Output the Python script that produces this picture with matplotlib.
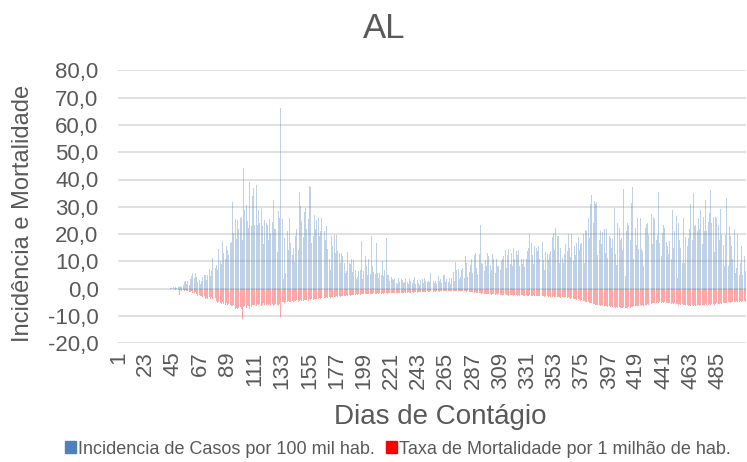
import matplotlib
matplotlib.use("Agg")
import matplotlib.pyplot as plt
from matplotlib.patches import Patch
from matplotlib.ticker import FuncFormatter, FixedLocator

plt.rcParams['font.family'] = ['Liberation Sans', 'DejaVu Sans']

# Incidência diária de casos por 100 mil hab. (AL)
incidencia = [
    0, 0, 0, 0, 0, 0, 0, 0, 0, 0,
    0, 0, 0, 0, 0, 0, 0, 0, 0, 0,
    0, 0, 0, 0, 0, 0, 0, 0, 0, 0,
    0, 0, 0, 0, 0, 0, 0, 0, 0, 0,
    0, 0, 0.2, 0.3, 0.5, 0.2, 0.6, 0.4, 0.7, 0.5,
    0.9, 0.6, 1.2, 2.6, 2.8, 1.9, 2.9, 1.3, 3.6, 4.6,
    5.8, 3.9, 5.6, 4.4, 2.3, 3.1, 1.8, 2.7, 4.4, 5.0,
    4.9, 3.3, 5.2, 7.1, 4.6, 6.4, 11.3, 5.4, 7.6, 8.7,
    6.9, 14.4, 10.2, 8.9, 17.4, 13.1, 11.0, 15.6, 14.0, 12.2,
    16.8, 17.1, 31.8, 20.5, 25.4, 18.2, 25.0, 21.7, 26.0, 26.3,
    17.9, 44.3, 29.0, 30.6, 24.8, 22.1, 39.0, 23.0, 33.9, 37.0,
    23.5, 37.9, 23.5, 29.0, 24.0, 29.4, 23.0, 16.5, 25.0, 24.0,
    23.5, 18.0, 25.6, 20.4, 24.5, 32.4, 22.0, 22.0, 13.5, 28.6,
    26.0, 66.2, 25.4, 3.4, 18.7, 5.8, 21.0, 14.2, 26.0, 16.8,
    12.5, 15.0, 9.8, 19.3, 21.7, 14.0, 35.4, 30.2, 24.8, 19.0,
    28.2, 29.6, 22.0, 25.4, 37.8, 37.3, 16.8, 19.3, 27.0, 22.0,
    25.0, 26.0, 19.3, 21.0, 26.0, 26.3, 21.0, 18.0, 23.0, 14.4,
    10.7, 6.8, 19.3, 15.6, 19.5, 13.0, 19.6, 13.7, 13.0, 9.5,
    13.0, 12.0, 9.5, 5.9, 6.5, 13.4, 9.3, 9.0, 11.0, 6.0,
    10.5, 7.0, 3.4, 4.2, 6.5, 7.0, 17.4, 3.4, 6.5, 11.9,
    8.3, 5.2, 11.0, 5.5, 19.3, 8.3, 6.0, 5.5, 16.6, 5.9,
    4.0, 5.9, 5.2, 10.1, 4.6, 7.0, 18.7, 5.2, 4.9, 2.8,
    4.4, 3.4, 3.2, 4.0, 2.2, 1.8, 4.1, 2.3, 3.6, 3.2,
    2.0, 2.5, 4.0, 2.6, 1.8, 3.6, 2.9, 2.2, 3.3, 4.4,
    1.6, 3.2, 2.2, 1.4, 3.1, 3.6, 2.0, 3.8, 2.7, 2.4,
    3.0, 2.4, 5.9, 3.1, 2.8, 2.2, 2.9, 1.9, 4.6, 2.8,
    3.5, 2.2, 5.2, 5.2, 2.6, 3.4, 2.4, 4.0, 1.8, 4.0,
    6.1, 3.0, 9.9, 6.8, 7.3, 3.4, 4.2, 7.0, 7.7, 3.9,
    12.0, 9.5, 4.4, 6.0, 8.5, 11.0, 5.8, 12.2, 12.9, 7.7,
    5.3, 12.6, 23.2, 9.5, 9.1, 6.5, 10.5, 8.3, 12.9, 11.8,
    8.5, 6.7, 12.6, 11.0, 5.9, 11.0, 8.3, 8.3, 6.9, 10.1,
    10.7, 12.0, 14.1, 7.4, 12.2, 14.6, 9.2, 12.9, 8.3, 15.0,
    10.7, 13.8, 12.2, 14.1, 8.3, 11.0, 9.2, 11.0, 7.8, 11.0,
    13.8, 15.0, 20.1, 16.6, 12.2, 9.0, 15.6, 15.0, 13.8, 15.6,
    10.7, 9.3, 17.0, 10.5, 7.0, 13.4, 12.6, 10.4, 12.6, 13.8,
    19.0, 20.5, 14.0, 22.3, 19.3, 19.3, 9.5, 15.0, 11.4, 9.5,
    12.8, 16.3, 13.8, 19.9, 15.0, 11.5, 19.9, 10.0, 15.6, 12.4,
    16.8, 19.0, 14.2, 16.3, 16.8, 19.9, 9.5, 21.5, 21.0, 26.0,
    18.5, 31.0, 34.3, 24.1, 32.0, 31.0, 31.6, 12.5, 18.0, 21.0,
    16.4, 20.9, 21.7, 13.0, 22.0, 11.2, 19.3, 18.7, 15.0, 18.1,
    29.6, 12.7, 8.7, 24.0, 22.2, 17.9, 18.5, 14.0, 36.6, 4.6,
    21.0, 23.9, 23.4, 17.9, 31.5, 37.3, 10.7, 22.3, 16.0, 26.0,
    14.6, 26.0, 14.6, 13.9, 8.2, 22.3, 23.6, 23.9, 19.8, 15.0,
    27.3, 16.3, 26.3, 25.4, 18.0, 19.8, 35.5, 16.8, 12.0, 20.5,
    23.2, 22.3, 17.0, 15.6, 12.6, 17.5, 10.7, 28.8, 15.0, 21.0,
    26.6, 4.0, 23.9, 18.0, 15.0, 9.5, 26.0, 9.5, 19.0, 15.6,
    18.7, 22.0, 30.9, 18.0, 35.1, 22.9, 23.4, 21.0, 26.0, 21.7,
    29.0, 16.5, 26.3, 21.0, 32.4, 21.2, 24.6, 27.6, 36.1, 23.9,
    26.3, 13.4, 26.3, 25.9, 23.2, 18.0, 29.2, 19.5, 15.9, 8.3,
    19.8, 33.3, 8.3, 22.9, 19.2, 15.6, 10.7, 22.0, 5.9, 7.7,
    19.9, 5.2, 9.5, 15.6, 4.9, 12.0, 6.5,
]

# Taxa de mortalidade por 1 milhão de hab. (plotada para baixo)
mortalidade = [
    0, 0, 0, 0, 0, 0, 0, 0, 0, 0,
    0, 0, 0, 0, 0, 0, 0, 0, 0, 0,
    0, 0, 0, 0, 0, 0, 0, 0, 0, 0,
    0, 0, 0, 0, 0, 0, 0, 0, 0, 0,
    0, 0, 0, 0, 0, 0, -0.3, -0.2, -0.4, -2.2,
    -0.5, -0.7, -0.4, -0.9, -0.6, -1.0, -0.8, -1.1, -1.3, -0.9,
    -1.4, -1.6, -1.2, -2.0, -2.7, -2.3, -2.8, -2.5, -3.0, -2.6,
    -3.7, -3.3, -3.9, -3.1, -3.6, -3.0, -3.9, -4.2, -3.5, -4.6,
    -5.4, -4.8, -5.2, -5.6, -4.9, -5.5, -5.9, -5.4, -6.0, -5.6,
    -5.8, -6.2, -6.4, -6.0, -7.3, -7.0, -7.5, -7.2, -6.8, -7.4,
    -11.2, -6.6, -6.3, -6.9, -6.1, -6.5, -7.3, -6.7, -6.0, -6.1,
    -5.8, -6.2, -5.6, -6.0, -5.7, -6.3, -5.9, -5.4, -6.0, -5.8,
    -5.6, -6.1, -5.5, -5.9, -5.7, -6.2, -5.8, -5.5, -6.0, -5.9,
    -5.6, -10.2, -5.0, -4.7, -5.1, -4.8, -5.0, -4.6, -4.9, -4.7,
    -4.5, -4.8, -4.4, -4.6, -4.3, -4.7, -4.5, -4.2, -4.6, -4.4,
    -4.1, -4.3, -4.0, -4.4, -3.9, -4.1, -3.8, -4.0, -3.7, -3.9,
    -3.6, -3.8, -3.5, -3.7, -3.4, -3.6, -3.3, -3.5, -3.2, -3.4,
    -3.1, -3.3, -3.0, -3.2, -2.9, -3.0, -2.8, -3.0, -2.7, -2.9,
    -2.6, -2.8, -2.5, -2.7, -2.4, -2.6, -2.3, -2.5, -2.2, -2.4,
    -2.2, -2.3, -2.1, -2.3, -2.0, -2.2, -2.0, -2.1, -1.9, -2.1,
    -1.9, -2.0, -1.8, -2.0, -1.8, -1.9, -1.7, -1.9, -1.8, -1.7,
    -1.9, -1.7, -1.8, -1.6, -1.8, -1.7, -1.6, -1.8, -1.7, -1.5,
    -1.7, -1.6, -1.5, -1.7, -1.6, -1.4, -1.6, -1.5, -1.4, -1.6,
    -1.5, -1.3, -1.5, -1.4, -1.3, -1.5, -1.4, -1.2, -1.4, -1.3,
    -1.2, -1.4, -1.3, -1.1, -1.3, -1.2, -1.1, -1.3, -1.2, -1.0,
    -1.2, -1.1, -1.0, -1.2, -1.1, -0.9, -1.1, -1.0, -0.9, -1.1,
    -1.0, -0.9, -0.8, -1.0, -0.9, -0.8, -0.9, -0.8, -0.7, -0.9,
    -0.8, -0.7, -0.9, -0.8, -0.7, -0.9, -0.8, -0.9, -1.0, -0.8,
    -0.9, -1.1, -1.0, -1.2, -1.1, -1.3, -1.2, -1.4, -1.3, -1.5,
    -1.6, -1.5, -1.7, -1.8, -1.6, -1.9, -2.0, -1.8, -2.1, -1.9,
    -2.0, -2.2, -2.1, -1.9, -2.2, -2.0, -2.3, -2.1, -2.2, -2.4,
    -2.2, -2.3, -2.1, -2.4, -2.3, -2.5, -2.2, -2.4, -2.3, -2.5,
    -2.4, -2.2, -2.5, -2.3, -2.6, -2.4, -2.3, -2.6, -2.5, -2.4,
    -2.6, -2.5, -2.3, -2.7, -2.5, -2.4, -2.7, -2.6, -2.5, -2.8,
    -2.6, -2.8, -2.7, -2.5, -2.9, -2.7, -2.8, -3.0, -2.7, -2.9,
    -3.0, -2.8, -3.1, -2.9, -3.2, -3.0, -3.1, -3.3, -3.0, -3.2,
    -3.3, -3.1, -3.4, -3.2, -3.5, -3.6, -3.4, -3.8, -3.7, -3.9,
    -4.0, -3.8, -4.2, -4.4, -4.3, -4.6, -4.5, -4.8, -5.0, -4.9,
    -5.2, -5.4, -5.3, -5.7, -5.6, -5.9, -5.8, -6.1, -5.9, -6.2,
    -6.0, -6.3, -6.2, -6.5, -6.3, -6.6, -6.4, -6.7, -6.5, -6.8,
    -6.6, -6.9, -6.7, -7.0, -6.8, -7.1, -6.9, -7.0, -6.8, -7.1,
    -6.9, -7.0, -6.7, -6.9, -6.6, -6.8, -6.5, -6.3, -6.5, -6.2,
    -6.4, -6.1, -6.3, -6.0, -6.2, -5.9, -6.0, -5.7, -5.8, -5.5,
    -5.6, -5.3, -5.4, -5.1, -5.3, -5.0, -5.2, -4.9, -5.1, -4.9,
    -5.1, -5.0, -5.3, -5.1, -5.4, -5.2, -5.5, -5.3, -5.6, -5.4,
    -5.7, -5.5, -5.8, -5.6, -5.9, -5.7, -6.0, -5.8, -6.1, -5.9,
    -6.2, -6.0, -6.3, -6.1, -6.2, -6.0, -6.3, -6.1, -5.9, -6.2,
    -6.0, -5.8, -6.1, -5.9, -5.7, -6.0, -5.8, -5.6, -5.9, -5.7,
    -5.5, -5.8, -5.6, -5.4, -5.7, -5.5, -5.3, -5.6, -5.4, -5.2,
    -5.1, -5.3, -5.0, -4.8, -5.1, -4.9, -4.7, -5.0, -4.8, -4.6,
    -4.9, -4.7, -4.5, -4.8, -4.6, -4.4, -4.7,
]

assert len(incidencia) == len(mortalidade)
dias = list(range(1, len(incidencia) + 1))
# rótulos a cada 22 dias, de 1 até 485
dias_rotulo = dias[:-1:22]
y_ticks = [-20, -10, 0, 10, 20, 30, 40, 50, 60, 70, 80]

cinza = '#595959'

fig = plt.figure(figsize=(7.47, 4.62), dpi=100)
ax = fig.add_axes([118 / 747, 1 - 343.3 / 462, 628 / 747, 273 / 462])

ax.bar(dias, incidencia, width=0.8, color='#4F81BD', alpha=0.36, linewidth=0, zorder=2)
ax.bar(dias, mortalidade, width=0.8, color='#FF0000', alpha=0.35, linewidth=0, zorder=2)

ax.set_xlim(0.5, len(dias) + 0.5)
ax.set_ylim(-20, 80)
ax.yaxis.set_major_locator(FixedLocator(y_ticks))
ax.yaxis.set_major_formatter(FuncFormatter(lambda v, p: f"{v:.1f}".replace('.', ',')))
ax.set_xticks(dias_rotulo)
ax.set_xticklabels([str(d) for d in dias_rotulo], rotation=90)

ax.grid(axis='y', color='#D9D9D9', linewidth=1.1, zorder=0)
ax.set_axisbelow(True)
for s in ax.spines.values():
    s.set_visible(False)
ax.tick_params(axis='y', length=0, pad=14, labelsize=16, labelcolor=cinza)
ax.tick_params(axis='x', length=0, pad=6, labelsize=16, labelcolor=cinza)

fig.text(384 / 747, 1 - 29 / 462, 'AL', ha='center', va='center', fontsize=25, color=cinza)
fig.text(23 / 747, 1 - 213 / 462, 'Incidência e Mortalidade', rotation=90,
         ha='center', va='center', fontsize=17, color=cinza)
fig.text(440 / 747, 1 - 417 / 462, 'Dias de Contágio', ha='center', va='center',
         fontsize=20, color=cinza)

handles = [Patch(color='#4F81BD', label='Incidencia de Casos por 100 mil hab.'),
           Patch(color='#FF0000', label='Taxa de Mortalidade por 1 milhão de hab.')]
leg = fig.legend(handles=handles, loc='center', bbox_to_anchor=(398 / 747, 1 - 449 / 462),
                 ncol=2, frameon=False, fontsize=13, handlelength=0.6, handleheight=0.6,
                 handletextpad=0.15, columnspacing=0.6, borderpad=0)
for t in leg.get_texts():
    t.set_color(cinza)

fig.savefig('out.png', dpi=100)
